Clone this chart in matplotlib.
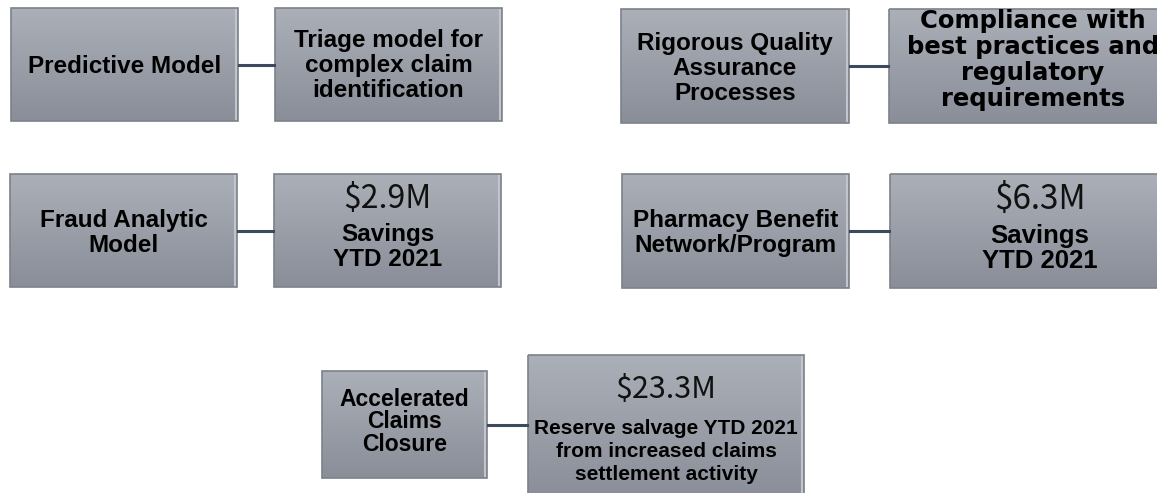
import numpy as np
import matplotlib.pyplot as plt
from matplotlib.patches import Rectangle
from matplotlib.colors import LinearSegmentedColormap

# left (driver) boxes and right (result) boxes
drivers = ['Predictive Model',
           'Rigorous Quality\nAssurance\nProcesses',
           'Fraud Analytic\nModel',
           'Pharmacy Benefit\nNetwork/Program',
           'Accelerated\nClaims\nClosure']
amounts = ['', '', '$2.9M', '$6.3M', '$23.3M']
results = ['Triage model for\ncomplex claim\nidentification',
           'Compliance with\nbest practices and\nregulatory\nrequirements',
           'Savings\nYTD 2021',
           'Savings\nYTD 2021',
           'Reserve salvage YTD 2021\nfrom increased claims\nsettlement activity']

# layout in pixels: (x, y, w, h) for driver box and result box
left_boxes = [(11, 8, 227, 113), (621, 9, 228, 114), (10, 174, 227, 113),
              (622, 174, 227, 114), (322, 371, 165, 107)]
right_boxes = [(275, 8, 227, 113), (889, 9, 288, 114), (274, 174, 227, 113),
               (890, 174, 300, 114), (528, 355, 276, 145)]
# text styling per row
left_size = [17.5, 17.5, 17.5, 17.5, 16.5]
right_size = [17.5, 17.5, 17.5, 18.5, 15]
right_step = [25, 26, 25, 25, 23]
right_mid = [0.49, 0.43, 0.63, 0.63, 0.65]   # fraction of box height
amount_size = [0, 0, 23, 24, 22]
amount_mid = [0, 0, 23, 23, 32]

W, H = 1157, 493
fig = plt.figure(figsize=(W / 100, H / 100), dpi=100)
ax = fig.add_axes([0, 0, 1, 1])
ax.set_xlim(0, W)
ax.set_ylim(H, 0)
ax.axis('off')

grad = LinearSegmentedColormap.from_list('box', ['#abafb8', '#8a8e98'])
bold = dict(family=['Liberation Sans', 'DejaVu Sans'], weight='bold',
            color='black', ha='center', va='baseline', zorder=4)
wide = dict(bold, family=['DejaVu Sans'])   # the stretched-looking box
thin = dict(family=['Noto Sans CJK SC', 'DejaVu Sans'], weight='light',
            color='#111111', ha='center', va='baseline', zorder=4)
line_c = '#3d4a5d'


def draw_box(x, y, w, h):
    g = np.linspace(0, 1, 64).reshape(-1, 1)
    ax.imshow(g, cmap=grad, extent=(x, x + w, y + h, y), aspect='auto',
              interpolation='bilinear', zorder=1)
    ax.add_patch(Rectangle((x, y), w, h, fill=False, ec='#7c818a', lw=1.2,
                           zorder=2))
    ax.plot([x + w - 2, x + w - 2], [y + 2, y + h - 2], color='#c2c5cb',
            lw=1.5, zorder=2)


def put_lines(cx, cy, text, size, step, style):
    # centre the block of cap heights on cy
    lines = text.split('\n')
    cap = 0.72 * size * 100 / 72
    y0 = cy - (len(lines) - 1) * step / 2 + cap / 2
    for k, s in enumerate(lines):
        ax.text(cx, y0 + k * step, s, fontsize=size, **style)


for i in range(len(drivers)):
    lx, ly, lw, lh = left_boxes[i]
    rx, ry, rw, rh = right_boxes[i]
    draw_box(lx, ly, lw, lh)
    draw_box(rx, ry, rw, rh)
    ym = ly + lh / 2
    ax.plot([lx + lw + 1, rx - 1], [ym, ym], color=line_c, lw=2.2, zorder=3)

    step = 22.5 if i == 4 else 25
    cy = ly + lh * (0.46 if i == 4 else 0.5)
    put_lines(lx + lw / 2, cy, drivers[i], left_size[i], step, bold)

    cx = rx + rw / 2
    put_lines(cx, ry + rh * right_mid[i], results[i], right_size[i],
              right_step[i], wide if i == 1 else bold)
    if amounts[i]:
        put_lines(cx, ry + amount_mid[i], amounts[i], amount_size[i], 0, thin)

fig.savefig('out.png', dpi=100)
